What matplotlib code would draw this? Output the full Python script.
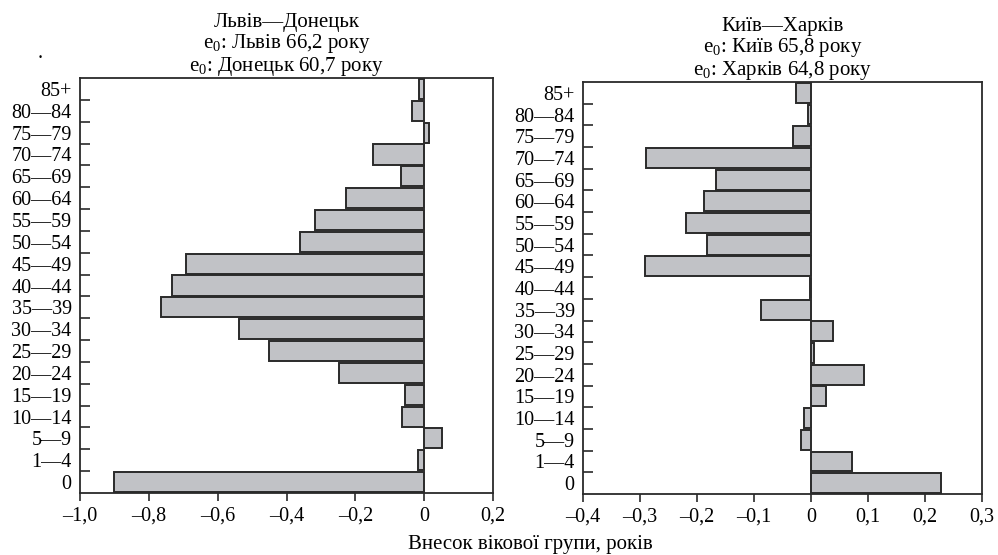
import numpy as np
import matplotlib
matplotlib.use("Agg")
import matplotlib.pyplot as plt

plt.rcParams['font.family'] = ['Liberation Serif', 'DejaVu Serif']
plt.rcParams['mathtext.fontset'] = 'custom'
plt.rcParams['mathtext.rm'] = 'Liberation Serif'
plt.rcParams['mathtext.it'] = 'Liberation Serif'

# age groups, from youngest (bottom) to oldest (top)
age_groups = ['0', '1—4', '5—9', '10—14', '15—19', '20—24', '25—29', '30—34',
              '35—39', '40—44', '45—49', '50—54', '55—59', '60—64', '65—69',
              '70—74', '75—79', '80—84', '85+']

lviv_donetsk = [-0.900, -0.017, 0.053, -0.065, -0.055, -0.247, -0.450, -0.537,
                -0.764, -0.734, -0.691, -0.361, -0.317, -0.226, -0.066,
                -0.150, 0.014, -0.034, -0.015]

kyiv_kharkiv = [0.228, 0.072, -0.018, -0.013, 0.026, 0.093, 0.006, 0.039,
                -0.087, -0.002, -0.292, -0.182, -0.220, -0.187, -0.167,
                -0.290, -0.032, -0.005, -0.026]

left_title = 'Львів—Донецьк\ne$_0$: Львів 66,2 року\ne$_0$: Донецьк 60,7 року'
right_title = 'Київ—Харків\ne$_0$: Київ 65,8 року\ne$_0$: Харків 64,8 року'

left_ticks = [-1.0, -0.8, -0.6, -0.4, -0.2, 0, 0.2]
left_ticklabels = ['–1,0', '–0,8', '–0,6', '–0,4', '–0,2', '0', '0,2']
right_ticks = [-0.4, -0.3, -0.2, -0.1, 0, 0.1, 0.2, 0.3]
right_ticklabels = ['–0,4', '–0,3', '–0,2', '–0,1', '0', '0,1', '0,2', '0,3']

fig = plt.figure(figsize=(9.98, 5.55), dpi=100)
ax1 = fig.add_axes([0.0802, 0.1117, 0.4138, 0.7477])
ax2 = fig.add_axes([0.5842, 0.1099, 0.3998, 0.7424])

fill = '#c1c2c6'
edge = '#2a2a2a'
fs = 14.5


def draw_panel(ax, values, title, ticks, ticklabels, xlim):
    y = np.arange(len(age_groups))
    ax.barh(y, values, height=0.92, color=fill, edgecolor=edge, linewidth=1.4)
    ax.set_xlim(xlim)
    ax.set_ylim(-0.5, len(age_groups) - 0.5)
    ax.set_xticks(ticks)
    ax.set_xticklabels(ticklabels, fontsize=fs)
    ax.tick_params(axis='x', direction='out', length=6, width=1.2,
                   color=edge, pad=4)
    # boundaries between groups get inward ticks, labels sit in the middle
    ax.set_yticks(np.arange(len(age_groups) - 1) + 0.5)
    ax.set_yticklabels([])
    ax.tick_params(axis='y', which='major', direction='in', length=7,
                   width=1.2, color=edge)
    ax.set_yticks(y, minor=True)
    ax.set_yticklabels(age_groups, minor=True, fontsize=fs)
    ax.tick_params(axis='y', which='minor', length=0, pad=6)
    for s in ax.spines.values():
        s.set_linewidth(1.3)
        s.set_color(edge)
    ax.set_title(title, fontsize=15, linespacing=1.0, pad=5)


draw_panel(ax1, lviv_donetsk, left_title, left_ticks, left_ticklabels, (-1.0, 0.2))
draw_panel(ax2, kyiv_kharkiv, right_title, right_ticks, right_ticklabels, (-0.4, 0.3))

fig.text(0.038, 0.895, '.', fontsize=fs)
fig.text(0.531, 0.01, 'Внесок вікової групи, років', fontsize=15, ha='center')

fig.savefig('out.png', dpi=100)
